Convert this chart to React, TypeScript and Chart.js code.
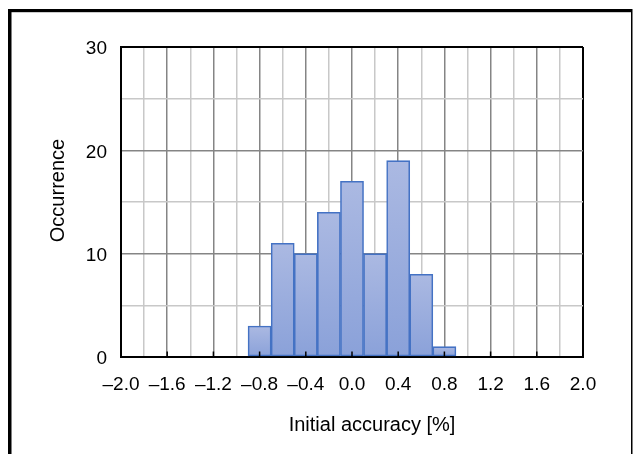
import React, { useEffect, useRef } from "react";
import { Chart, registerables } from "chart.js";

Chart.register(...registerables);

// ---- data ----
const binCenters: number[] = [-0.8, -0.6, -0.4, -0.2, 0.0, 0.2, 0.4, 0.6, 0.8];
const counts: number[] = [3, 11, 10, 14, 17, 10, 19, 8, 1];

const xMin = -2.0;
const xMax = 2.0;
const xStep = 0.2;
const xLabelStep = 0.4;
const yMin = 0;
const yMax = 30;
const yStep = 5;
const yLabelStep = 10;

const xTitle = "Initial accuracy [%]";
const yTitle = "Occurrence";

const FONT = "'Liberation Sans', Arial, sans-serif";

const isMultiple = (v: number, step: number) => {
  const r = v / step;
  return Math.abs(r - Math.round(r)) < 1e-6;
};
const near = (a: number, b: number) => Math.abs(a - b) < 1e-6;

const fmtX = (v: number) => {
  if (!isMultiple(v, xLabelStep)) return "";
  const a = Math.abs(v).toFixed(1);
  return v < -1e-9 ? "\u2013" + a : a;
};

export default function App() {
  const ref = useRef<HTMLCanvasElement | null>(null);

  useEffect(() => {
    document.body.style.margin = "0";
    const canvas = ref.current;
    if (!canvas) return;

    const framePlugin = {
      id: "frame",
      beforeDraw(chart: any) {
        const c = chart.ctx;
        c.save();
        c.fillStyle = "#ffffff";
        c.fillRect(0, 0, chart.width, chart.height);
        c.fillStyle = "#000000";
        c.fillRect(8, 9, 3.5, chart.height - 9);
        c.fillRect(8, 9, 625 - 1, 3.2);
        c.fillRect(631, 9, 1.5, chart.height - 9);
        c.restore();
      },
      afterDatasetsDraw(chart: any) {
        const c = chart.ctx;
        const xs = chart.scales.x;
        const bottom = chart.chartArea.bottom;
        c.save();
        c.strokeStyle = "#000000";
        c.lineWidth = 1.5;
        for (let i = 0; i * xLabelStep <= xMax - xMin + 1e-9; i++) {
          const v = xMin + i * xLabelStep;
          const px = xs.getPixelForValue(v);
          c.beginPath();
          c.moveTo(px, bottom);
          c.lineTo(px, bottom - 5.5);
          c.stroke();
        }
        c.restore();
      },
      afterDraw(chart: any) {
        const c = chart.ctx;
        c.save();
        c.fillStyle = "#000000";
        c.font = `20px ${FONT}`;
        c.textAlign = "center";
        c.textBaseline = "middle";
        c.fillText(xTitle, 372, 425);
        c.translate(58, 190.5);
        c.rotate(-Math.PI / 2);
        c.fillText(yTitle, 0, 0);
        c.restore();
      },
    };

    const chart = new Chart(canvas, {
      type: "bar",
      data: {
        datasets: [
          {
            data: binCenters.map((x, i) => ({ x, y: counts[i] })),
            backgroundColor: (ctx: any) => {
              const ch = ctx.chart;
              const ys = ch.scales && ch.scales.y;
              const raw = ctx.raw;
              if (!ys || !raw) return "#9aaddd";
              const top = ys.getPixelForValue(raw.y);
              const bot = ys.getPixelForValue(0);
              if (!isFinite(top) || !isFinite(bot) || top === bot) return "#9aaddd";
              const g = ch.ctx.createLinearGradient(0, top, 0, bot);
              g.addColorStop(0, "#abb9e2");
              g.addColorStop(1, "#8aa1d9");
              return g;
            },
            borderColor: "#4472c4",
            borderWidth: 1.6,
            borderSkipped: false,
            barPercentage: 1,
            categoryPercentage: 1,
          } as any,
        ],
      },
      options: {
        animation: false,
        responsive: true,
        maintainAspectRatio: false,
        layout: { padding: { left: 0, top: 47, right: 50, bottom: 0 } },
        plugins: {
          legend: { display: false },
          tooltip: { enabled: false },
          title: { display: false },
        },
        scales: {
          x: {
            type: "linear",
            min: xMin,
            max: xMax,
            offset: false,
            afterFit: (s: any) => {
              s.height = 454 - 357;
            },
            ticks: {
              stepSize: xStep,
              autoSkip: false,
              maxRotation: 0,
              minRotation: 0,
              padding: 16,
              color: "#000000",
              font: { family: FONT, size: 19 },
              callback: (v: any) => fmtX(Number(v)),
            },
            grid: {
              offset: false,
              drawTicks: false,
              color: (ctx: any) => {
                const v = ctx.tick ? ctx.tick.value : 0;
                if (near(v, xMax) || near(v, xMin)) return "#000000";
                return isMultiple(v, xLabelStep) ? "#858585" : "#c8c8c8";
              },
              lineWidth: (ctx: any) => {
                const v = ctx.tick ? ctx.tick.value : 0;
                if (near(v, xMax) || near(v, xMin)) return 2;
                return 1.5;
              },
            },
            border: { display: true, color: "#000000", width: 2 },
          },
          y: {
            type: "linear",
            min: yMin,
            max: yMax,
            afterFit: (s: any) => {
              s.width = 121;
            },
            ticks: {
              stepSize: yStep,
              padding: 14,
              labelOffset: 2,
              color: "#000000",
              font: { family: FONT, size: 19 },
              callback: (v: any) => (isMultiple(Number(v), yLabelStep) ? String(v) : ""),
            },
            grid: {
              drawTicks: false,
              color: (ctx: any) => {
                const v = ctx.tick ? ctx.tick.value : 0;
                if (near(v, yMax) || near(v, yMin)) return "#000000";
                return isMultiple(v, yLabelStep) ? "#858585" : "#c8c8c8";
              },
              lineWidth: (ctx: any) => {
                const v = ctx.tick ? ctx.tick.value : 0;
                if (near(v, yMax) || near(v, yMin)) return 2;
                return 1.5;
              },
            },
            border: { display: true, color: "#000000", width: 2 },
          },
        },
      } as any,
      plugins: [framePlugin],
    });

    return () => chart.destroy();
  }, []);

  return (
    <div style={{ position: "relative", width: 633, height: 454 }}>
      <canvas ref={ref} />
    </div>
  );
}
